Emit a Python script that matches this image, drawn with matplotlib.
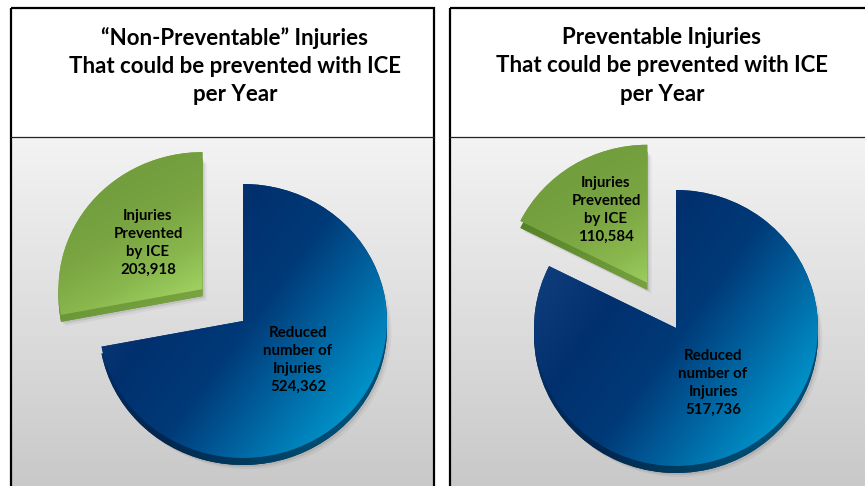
import numpy as np
import matplotlib
matplotlib.use('Agg')
import matplotlib.pyplot as plt
from matplotlib.colors import LinearSegmentedColormap
from matplotlib.patches import Rectangle

W, H = 865, 486

titles = ['\u201cNon-Preventable\u201d Injuries\nThat could be prevented with ICE\nper Year',
          'Preventable Injuries\nThat could be prevented with ICE\nper Year']
prevented = [203918, 110584]
reduced = [524362, 517736]
prevented_label = 'Injuries\nPrevented\nby ICE\n{:,}'
reduced_label = 'Reduced\nnumber of\nInjuries\n{:,}'

plt.rcParams['font.family'] = ['Lato', 'DejaVu Sans']

blue_cm = LinearSegmentedColormap.from_list('b', ['#0f3d7c', '#02306f', '#003a78', '#006aa6', '#009bd0'])
green_cm = LinearSegmentedColormap.from_list('g', ['#739e3e', '#7aa542', '#8ab84e', '#a2d463'])
rim_blue_cm = LinearSegmentedColormap.from_list('rb', ['#0f3a75', '#022a5c', '#02264f', '#003a5c', '#00527a'])
rim_green_cm = LinearSegmentedColormap.from_list('rg', ['#557f29', '#5f8a2e', '#6c9838', '#7ba442'])
gray_cm = LinearSegmentedColormap.from_list('gr', ['#f3f3f3', '#c9c9c9'])


def px(x, y):
    return x / W, 1 - y / H


def fill(ax, wedge, cmap, angle, lo, hi):
    # diagonal gradient, clipped to the wedge
    xx, yy = np.meshgrid(np.linspace(-2, 2, 300), np.linspace(2, -2, 300))
    t = (xx * np.cos(angle) + yy * np.sin(angle) - lo) / (hi - lo)
    im = ax.imshow(np.clip(t, 0, 1), extent=(-2, 2, -2, 2), cmap=cmap, vmin=0, vmax=1,
                   aspect='auto', zorder=wedge.get_zorder() + 0.1)
    im.set_clip_path(wedge)


def draw_pie(cx, cy, rx, ry, vals, explode, depth=7):
    # axes sized so that one data unit is rx by ry pixels
    ax = fig.add_axes([(cx - 2 * rx) / W, 1 - (cy + 2 * ry) / H, 4 * rx / W, 4 * ry / H])
    ax.patch.set_alpha(0)
    d = depth / ry
    ex = [explode, 0]
    for off, al in [(0.03, 0.08), (0.015, 0.14)]:
        ax.pie(vals, startangle=90, explode=ex, center=(off, -d - off),
               colors=['#555555', '#555555'], wedgeprops=dict(alpha=al, zorder=1))
    r, _ = ax.pie(vals, startangle=90, explode=ex, center=(0, -d),
                  colors=['#5e8a2c', '#03264f'], wedgeprops=dict(zorder=2))
    fill(ax, r[0], rim_green_cm, np.radians(-60), -1.3, -0.3)
    fill(ax, r[1], rim_blue_cm, np.radians(-35), -1.0, 1.1)
    w, _ = ax.pie(vals, startangle=90, explode=ex,
                  colors=['#7aa542', '#02306f'], wedgeprops=dict(zorder=3))
    fill(ax, w[0], green_cm, np.radians(-60), -1.3, -0.3)
    fill(ax, w[1], blue_cm, np.radians(-35), -1.0, 1.1)
    ax.set_aspect('auto')
    ax.set_xlim(-2, 2)
    ax.set_ylim(-2, 2)
    ax.axis('off')


fig = plt.figure(figsize=(W / 100, H / 100), dpi=100)
base = fig.add_axes([0, 0, 1, 1])
base.set_xlim(0, W)
base.set_ylim(H, 0)
base.axis('off')

panels = [(10.5, 434), (450, 880)]
for x0, x1 in panels:
    base.imshow(np.linspace(0, 1, 100).reshape(-1, 1), extent=(x0, x1, H, 137), cmap=gray_cm,
                aspect='auto', zorder=1)
    base.add_patch(Rectangle((x0, 8.5), x1 - x0, 500, fc='none', ec='black', lw=1.6, zorder=3))
    base.plot([x0, x1], [137.5, 137.5], color='#222222', lw=0.9, zorder=3)
base.set_xlim(0, W)
base.set_ylim(H, 0)

draw_pie(243, 321, 144, 137, [prevented[0], reduced[0]], 0.365)
draw_pie(676, 328, 142, 138, [prevented[1], reduced[1]], 0.385)

title_x = [235, 662]
green_pos = [(148, 243), (606, 210)]
blue_pos = [(298, 360), (713, 383)]
for i in range(2):
    fig.text(*px(title_x[i], 66), titles[i], ha='center', va='center', fontsize=16,
             fontweight='bold', color='black', linespacing=1.42)
    fig.text(*px(*green_pos[i]), prevented_label.format(prevented[i]), ha='center', va='center',
             fontsize=10.8, fontweight='bold', color='black', linespacing=1.36)
    fig.text(*px(*blue_pos[i]), reduced_label.format(reduced[i]), ha='center', va='center',
             fontsize=10.8, fontweight='bold', color='black', linespacing=1.36)

fig.savefig('out.png', dpi=100)
